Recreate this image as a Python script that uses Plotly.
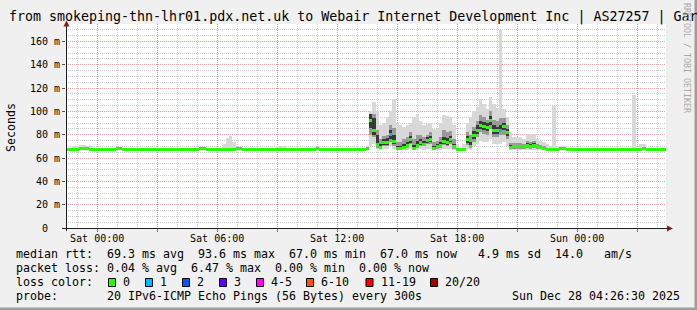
import plotly.graph_objects as go
import pandas as pd

# ---------------- data (10-minute consolidated steps) ----------------
START = "2025-12-26 22:25"
STEP = "10min"

median_rtt = [
    67, 67, 67, 67, 68, 68, 68, 67, 67, 67, 67, 67, 67, 67, 67, 68, 68, 67, 67, 67,
    67, 67, 67, 67, 67, 67, 67, 67, 67, 67, 67, 67, 67, 67, 67, 67, 67, 67, 67, 67,
    68, 68, 67, 67, 67, 67, 67, 67, 67, 67, 67, 68, 68, 67, 67, 67, 67, 67, 67, 67,
    67, 67, 67, 67.5, 67.5, 67, 67, 67, 67, 67, 67, 67, 67, 67, 67, 68, 67, 67, 67, 67,
    67, 67, 67, 67, 67, 67, 67, 67, 67, 67, 68, 92, 84, 72, 69, 73, 73, 80, 74, 68,
    68, 69, 71, 76, 68, 71, 73, 72, 75, 76, 68, 70, 71, 74, 73, 76, 70, 67, 67, 67,
    76, 70, 79, 84, 88, 87, 86, 92, 84, 84, 84, 87, 82, 69, 70, 70, 70, 70, 71, 70,
    71, 70, 69, 68, 67, 67, 67, 67, 68, 68, 67, 67, 67, 67, 67, 67, 67, 67, 67, 67,
    67, 67, 67, 67, 67, 67, 67, 67, 67, 67, 67, 67, 67, 68, 67, 67, 67, 67, 67, 67,
]

loss_count = [
    0, 0, 0, 0, 0, 0, 0, 0, 0, 0, 0, 0, 0, 0, 0, 0, 0, 0, 0, 0,
    0, 0, 0, 0, 0, 0, 0, 0, 0, 0, 0, 0, 0, 0, 0, 0, 0, 0, 0, 0,
    0, 0, 0, 0, 0, 0, 0, 0, 0, 0, 0, 0, 0, 0, 0, 0, 0, 0, 0, 0,
    0, 0, 0, 0, 0, 0, 0, 0, 0, 0, 0, 0, 0, 0, 0, 0, 0, 0, 0, 0,
    0, 0, 0, 0, 0, 0, 0, 0, 0, 0, 0, 0, 0, 0, 0, 0, 0, 1, 0, 0,
    0, 0, 0, 0, 0, 0, 0, 0, 0, 0, 0, 0, 0, 0, 0, 0, 0, 0, 0, 0,
    0, 0, 0, 0, 0, 0, 0, 0, 0, 0, 1, 0, 0, 0, 0, 0, 0, 0, 0, 0,
    0, 0, 0, 0, 0, 0, 0, 0, 0, 0, 0, 0, 0, 0, 0, 0, 0, 0, 0, 0,
    0, 0, 0, 0, 0, 0, 0, 0, 0, 0, 0, 0, 0, 0, 0, 0, 0, 0, 0, 0,
]

smoke_max = [
    68, 68, 70, 70, 71, 71, 70, 70, 68, 68, 68, 68, 68, 68, 68, 69, 69, 68, 68, 68,
    68, 68, 68, 68, 68, 68, 68, 69, 69, 69, 69, 69, 68, 68, 68, 68, 68, 68, 68, 69,
    69, 69, 69, 68, 68, 68, 68, 72, 77, 79, 74, 69, 69, 69, 69, 69, 68, 68, 68, 68,
    68, 68, 68, 70, 70, 70, 69, 68, 68, 68, 68, 68, 68, 68, 68, 69, 68, 68, 68, 68,
    68, 68, 68, 68, 68, 68, 68, 68, 68, 68, 70, 100, 108, 100, 88, 90, 95, 100, 111, 90,
    88, 87, 88, 90, 95, 98, 92, 88, 89, 90, 85, 85, 90, 97, 96, 95, 88, 72, 69, 72,
    90, 95, 100, 104, 111, 106, 102, 112, 106, 103, 170, 102, 95, 82, 78, 78, 78, 76, 81, 81,
    81, 76, 75, 74, 72, 70, 105, 70, 70, 70, 69, 69, 68, 68, 68, 68, 68, 69, 69, 69,
    69, 69, 69, 68, 68, 68, 68, 68, 68, 68, 114, 68, 72, 72, 68, 68, 68, 68, 68, 68,
]

smoke_min = [
    66.5, 66.5, 66.5, 66.5, 66.5, 66.5, 66.5, 66.5, 66.5, 66.5, 66.5, 66.5, 66.5, 66.5, 66.5, 66.5, 66.5, 66.5, 66.5, 66.5,
    66.5, 66.5, 66.5, 66.5, 66.5, 66.5, 66.5, 66.5, 66.5, 66.5, 66.5, 66.5, 66.5, 66.5, 66.5, 66.5, 66.5, 66.5, 66.5, 66.5,
    66.5, 66.5, 66.5, 66.5, 66.5, 66.5, 66.5, 66.5, 66.5, 66.5, 66.5, 66.5, 66.5, 66.5, 66.5, 66.5, 66.5, 66.5, 66.5, 66.5,
    66.5, 66.5, 66.5, 66.5, 66.5, 66.5, 66.5, 66.5, 66.5, 66.5, 66.5, 66.5, 66.5, 66.5, 66.5, 66.5, 66.5, 66.5, 66.5, 66.5,
    66.5, 66.5, 66.5, 66.5, 66.5, 66.5, 66.5, 66.5, 66.5, 66.5, 67, 70, 72, 68, 67, 68, 68, 70, 68, 67,
    67, 67, 67, 68, 67, 67, 68, 67, 68, 68, 67, 67, 67, 68, 68, 68, 67, 66.5, 66.5, 66.5,
    68, 67, 70, 72, 75, 74, 74, 76, 72, 72, 72, 74, 70, 67, 67, 67, 67, 67, 67, 67,
    67, 67, 67, 66.5, 66.5, 66.5, 66.5, 66.5, 66.5, 66.5, 66.5, 66.5, 66.5, 66.5, 66.5, 66.5, 66.5, 66.5, 66.5, 66.5,
    66.5, 66.5, 66.5, 66.5, 66.5, 66.5, 66.5, 66.5, 66.5, 66.5, 66.5, 66.5, 66.5, 66.5, 66.5, 66.5, 66.5, 66.5, 66.5, 66.5,
]

# inner quartile-like band of the smoke (only where it spreads visibly)
mid_low = [None] * 90 + [
    67, 80, 78, 69, 68, 70, 70, 74, 70, 67,
    67, 68, 69, 72, 67, 69, 70, 70, 72, 72, 67, 68, 69, 71, 70, 72, 68, 67, 67, 67,
    71, 69, 74, 78, 82, 81, 80, 85, 78, 78, 80, 80, 76, 68, 68, 68, 68, 68, 69, 68,
    69, 68, 68, 67, 67,
] + [None] * 35
mid_high = [None] * 90 + [
    69, 96, 98, 84, 76, 79, 80, 88, 86, 74,
    74, 76, 78, 82, 76, 80, 80, 78, 80, 82, 74, 75, 78, 84, 82, 83, 76, 68, 68, 69,
    82, 80, 87, 92, 97, 95, 93, 100, 93, 92, 94, 94, 88, 73, 73, 73, 73, 72, 75, 74,
    75, 72, 71, 70, 69,
] + [None] * 35
# dense core right around the median
core_low = [None] * 90 + [
    67, 86, 80, 70, 68, 71, 71, 76, 72, 67,
    67, 68, 70, 73, 67, 70, 71, 71, 73, 74, 67, 69, 70, 72, 71, 74, 69, 67, 67, 67,
    73, 69, 76, 81, 85, 84, 83, 88, 81, 81, 82, 84, 79, 68, 69, 69, 69, 69, 70, 69,
    70, 69, 68, 67, 67,
] + [None] * 35
core_high = [None] * 90 + [
    69, 98, 94, 80, 72, 76, 77, 84, 80, 70,
    70, 72, 74, 79, 71, 75, 76, 75, 78, 79, 70, 72, 74, 78, 77, 79, 72, 68, 68, 68,
    79, 74, 83, 88, 92, 91, 90, 96, 88, 87, 88, 90, 85, 71, 71.5, 71.5, 71.5, 71.5, 73, 72,
    73, 71.5, 70, 69, 68,
] + [None] * 35

loss_labels = ["0", "1", "2", "3", "4-5", "6-10", "11-19", "20/20"]
loss_colors = ["#26ff00", "#00b8ff", "#0059ff", "#5e00ff", "#ff00ff", "#ff5500", "#ff0000", "#a00000"]

y_ticks = [0, 20, 40, 60, 80, 100, 120, 140, 160]
y_labels = ["0\u00a0\u00a0", "20 m", "40 m", "60 m", "80 m", "100 m", "120 m", "140 m", "160 m"]
x_ticks = ["2025-12-27 00:00", "2025-12-27 03:00", "2025-12-27 06:00", "2025-12-27 09:00",
           "2025-12-27 12:00", "2025-12-27 15:00", "2025-12-27 18:00", "2025-12-27 21:00",
           "2025-12-28 00:00", "2025-12-28 03:00"]
x_labels = ["Sat 00:00", "", "Sat 06:00", "", "Sat 12:00", "", "Sat 18:00", "", "Sun 00:00", ""]

rtt_stats = ["69.3", "93.6", "67.0", "67.0", "4.9", "14.0"]
loss_stats = ["0.04", "6.47", "0.00", "0.00"]

TITLE = "from smokeping-thn-lhr01.pdx.net.uk to Webair Internet Development Inc | AS27257 | Gar"
PROBE = "20 IPv6-ICMP Echo Pings (56 Bytes) every 300s"
STAMP = "Sun Dec 28 04:26:30 2025"

# ---------------- layout geometry (pixels) ----------------
IMG_W, IMG_H = 697, 310
L, R, T, B = 66, 666, 24, 228
MONO = "DejaVu Sans Mono"


def px(x):
    return (x - L) / (R - L)


def py(y):
    return (B - y) / (B - T)


times = pd.date_range(START, periods=len(median_rtt), freq=STEP)
bw = 10 * 60 * 1000

loss_bucket = {0: 0, 1: 1, 2: 2, 3: 3, 4: 4, 5: 4}
med_colors = [loss_colors[loss_bucket.get(c, 5)] for c in loss_count]


def band(lo, hi, color):
    fig.add_bar(x=times, base=lo,
                y=[None if (h is None or l is None) else h - l for h, l in zip(hi, lo)],
                width=bw, offset=0, marker=dict(color=color, line=dict(width=0)), hoverinfo="skip")


fig = go.Figure()
band(smoke_min, smoke_max, "#d8d8d8")
band(mid_low, mid_high, "#9a9a9a")
band(core_low, core_high, "#383838")
fig.add_bar(x=times, base=[m - 1.25 for m in median_rtt], y=[2.5] * len(median_rtt),
            width=bw, offset=0, marker=dict(color=med_colors, line=dict(width=0)), hoverinfo="skip")

hours = [t for t in pd.date_range("2025-12-26 23:00", "2025-12-28 04:00", freq="1h")]
minor_y = [v for v in range(5, 176, 5) if v % 20 != 0]

fig.update_layout(
    width=IMG_W, height=IMG_H,
    margin=dict(l=L, r=IMG_W - R, t=T, b=IMG_H - B, pad=0, autoexpand=False),
    paper_bgcolor="#f0f0f0", plot_bgcolor="#ffffff",
    barmode="overlay", bargap=0, showlegend=False,
    font=dict(family=MONO, size=10, color="#000000"),
    xaxis=dict(type="date", range=["2025-12-26 22:26:30", "2025-12-28 04:26:30"],
               tickmode="array", tickvals=x_ticks, ticktext=x_labels,
               ticks="outside", ticklen=3, tickcolor="#de5050", ticklabelstandoff=-2,
               showgrid=True, gridcolor="rgba(222,80,80,0.5)", griddash="1px,1px", gridwidth=1,
               minor=dict(tickvals=hours, showgrid=True, gridcolor="rgba(143,143,143,0.45)",
                          griddash="1px,1px", ticks=""),
               showline=False, zeroline=False, tickfont=dict(family=MONO, size=10),
               fixedrange=True),
    yaxis=dict(range=[0, 175], tickmode="array", tickvals=y_ticks, ticktext=y_labels,
               ticks="outside", ticklen=3, tickcolor="#555555",
               showgrid=True, gridcolor="rgba(222,80,80,0.5)", griddash="1px,1px", gridwidth=1,
               minor=dict(tickvals=minor_y, showgrid=True, gridcolor="rgba(143,143,143,0.45)",
                          griddash="1px,1px", ticks=""),
               showline=False, zeroline=False, tickfont=dict(family=MONO, size=10),
               fixedrange=True),
)

shapes = []
# axes
shapes.append(dict(type="line", xref="paper", yref="paper", x0=px(66.5), x1=px(66.5), y0=py(231), y1=py(24),
                   line=dict(color="#1f1f1f", width=1)))
shapes.append(dict(type="line", xref="paper", yref="paper", x0=px(62), x1=px(668), y0=py(228.5), y1=py(228.5),
                   line=dict(color="#1f1f1f", width=1)))
shapes.append(dict(type="path", xref="paper", yref="paper",
                   path=f"M {px(63.5)} {py(26.5)} L {px(69.5)} {py(26.5)} L {px(66.5)} {py(20.5)} Z",
                   fillcolor="#7f1f1f", line=dict(width=0)))
shapes.append(dict(type="path", xref="paper", yref="paper",
                   path=f"M {px(667)} {py(225.5)} L {px(667)} {py(231.5)} L {px(673)} {py(228.5)} Z",
                   fillcolor="#7f1f1f", line=dict(width=0)))
# frame
shapes.append(dict(type="rect", xref="paper", yref="paper", x0=px(694.5), x1=px(697), y0=py(0), y1=py(310),
                   fillcolor="#9e9e9e", line=dict(width=0), layer="above"))
shapes.append(dict(type="rect", xref="paper", yref="paper", x0=px(0), x1=px(697), y0=py(307.5), y1=py(310),
                   fillcolor="#9e9e9e", line=dict(width=0), layer="above"))

# loss colour swatches
box_x = [108.5, 145.5, 182.5, 219.5, 256.5, 306.5, 366, 430.5]
for bx, col in zip(box_x, loss_colors):
    shapes.append(dict(type="rect", xref="paper", yref="paper", x0=px(bx), x1=px(bx + 7),
                       y0=py(286.5), y1=py(278.5), fillcolor=col, line=dict(color="#000000", width=1)))
fig.update_layout(shapes=shapes)


def txt(x, y, s, size=11.63, anchor="left", color="#000000", angle=0, yanchor="middle"):
    fig.add_annotation(x=px(x), y=py(y), xref="paper", yref="paper", text=s.replace(" ", "\u00a0"),
                       showarrow=False, xanchor=anchor, yanchor=yanchor, textangle=angle,
                       font=dict(family=MONO, size=size, color=color), borderpad=0, borderwidth=0)


txt(8.5, 17, TITLE, size=13.3)
txt(11, 128, "Seconds", size=11.6, anchor="center", angle=-90)
txt(687, 58, "RRDTOOL / TOBI OETIKER", size=8.3, anchor="center", color="#a8a8a8", angle=90)

line1 = ("median rtt:  %s ms avg  %s ms max  %s ms min  %s ms now   %s ms sd  %s   am/s"
         % tuple(rtt_stats))
line2 = "packet loss: %s %% avg  %s %% max  %s %% min  %s %% now" % tuple(loss_stats)
txt(16, 254, line1)
txt(16, 268, line2)
txt(16, 282, "loss color:")
for bx, lab in zip(box_x, loss_labels):
    txt(bx + 14.5, 282, lab)
txt(16, 296, "probe:       " + PROBE)
txt(680, 296, STAMP, anchor="right")

fig.write_html("out.html")
